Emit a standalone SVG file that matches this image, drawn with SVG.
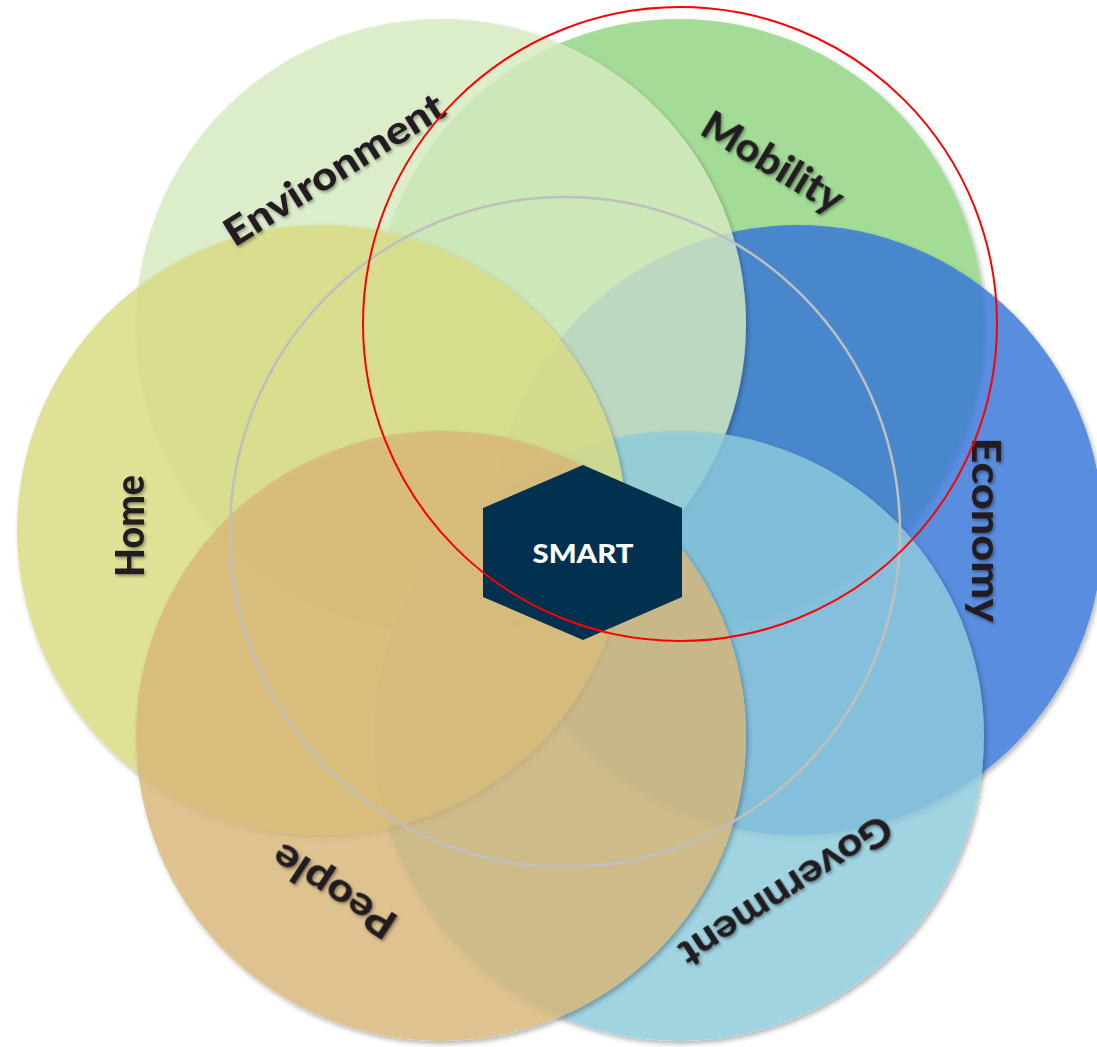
<svg xmlns="http://www.w3.org/2000/svg" width="1097" height="1047" viewBox="0 0 1097 1047">
  <defs>
    <filter id="csh" x="-10%" y="-10%" width="125%" height="125%">
      <feGaussianBlur in="SourceAlpha" stdDeviation="2.5" result="b"/>
      <feOffset in="b" dx="1.5" dy="3" result="o"/>
      <feFlood flood-color="#000" flood-opacity="0.35"/>
      <feComposite in2="o" operator="in" result="s"/>
      <feComposite in="s" in2="SourceAlpha" operator="out" result="so"/>
      <feMerge><feMergeNode in="so"/><feMergeNode in="SourceGraphic"/></feMerge>
    </filter>
    <filter id="tsh" x="-20%" y="-20%" width="140%" height="140%">
      <feDropShadow dx="1.5" dy="2" stdDeviation="1.5" flood-color="#000" flood-opacity="0.35"/>
    </filter>
  </defs>
  <style>
    .c { fill-opacity: 0.82; filter: url(#csh); }
    .lbl { font-family: Lato, "Open Sans", "Liberation Sans", sans-serif; font-weight: 900; font-size: 39px; fill: #231f20; text-anchor: middle; }
    .smart { font-family: Lato, "Open Sans", "Liberation Sans", sans-serif; font-weight: 900; font-size: 27px; fill: #ffffff; text-anchor: middle; }
  </style>
  <rect width="1097" height="1047" fill="#ffffff"/>

  <g id="mobility"><circle class="c" cx="679" cy="324" r="305" fill="#91d683"/></g>
  <g id="economy"><circle class="c" cx="798" cy="530" r="305" fill="#3776d9"/></g>
  <g id="environment"><circle class="c" cx="441" cy="324" r="305" fill="#d6eabf"/></g>
  <g id="government"><circle class="c" cx="679" cy="736" r="305" fill="#8eccdc"/></g>
  <g id="home"><circle class="c" cx="322" cy="530" r="305" fill="#d9dc82"/></g>
  <g id="people"><circle class="c" cx="441" cy="736" r="305" fill="#d8b677"/></g>

  <g id="inner-ring"><circle cx="565" cy="532" r="335" fill="none" stroke="#bfbfbf" stroke-width="2.5"/></g>

  <g id="smart">
    <polygon points="583,465 682,508 682,597 583,640 483,597 483,508" fill="#023150"/>
    <text class="smart" x="583" y="563" textLength="101" lengthAdjust="spacingAndGlyphs">SMART</text>
  </g>

  <g id="labels" filter="url(#tsh)">
    <text class="lbl" transform="translate(334,169) rotate(-32)" x="0" y="14" textLength="252" lengthAdjust="spacingAndGlyphs">Environment</text>
    <text class="lbl" transform="translate(773,162) rotate(31)" x="0" y="14" textLength="158" lengthAdjust="spacingAndGlyphs">Mobility</text>
    <text class="lbl" transform="translate(986,530) rotate(90)" x="0" y="14" textLength="185" lengthAdjust="spacingAndGlyphs">Economy</text>
    <text class="lbl" transform="translate(786,891) rotate(147)" x="0" y="14" textLength="245" lengthAdjust="spacingAndGlyphs">Government</text>
    <text class="lbl" transform="translate(334,891) rotate(-147)" x="0" y="14" textLength="140" lengthAdjust="spacingAndGlyphs">People</text>
    <text class="lbl" transform="translate(130,526) rotate(-90)" x="0" y="14" textLength="102" lengthAdjust="spacingAndGlyphs">Home</text>
  </g>

  <g id="highlight"><circle cx="680" cy="324" r="317" fill="none" stroke="#ff0000" stroke-width="2"/></g>
</svg>
